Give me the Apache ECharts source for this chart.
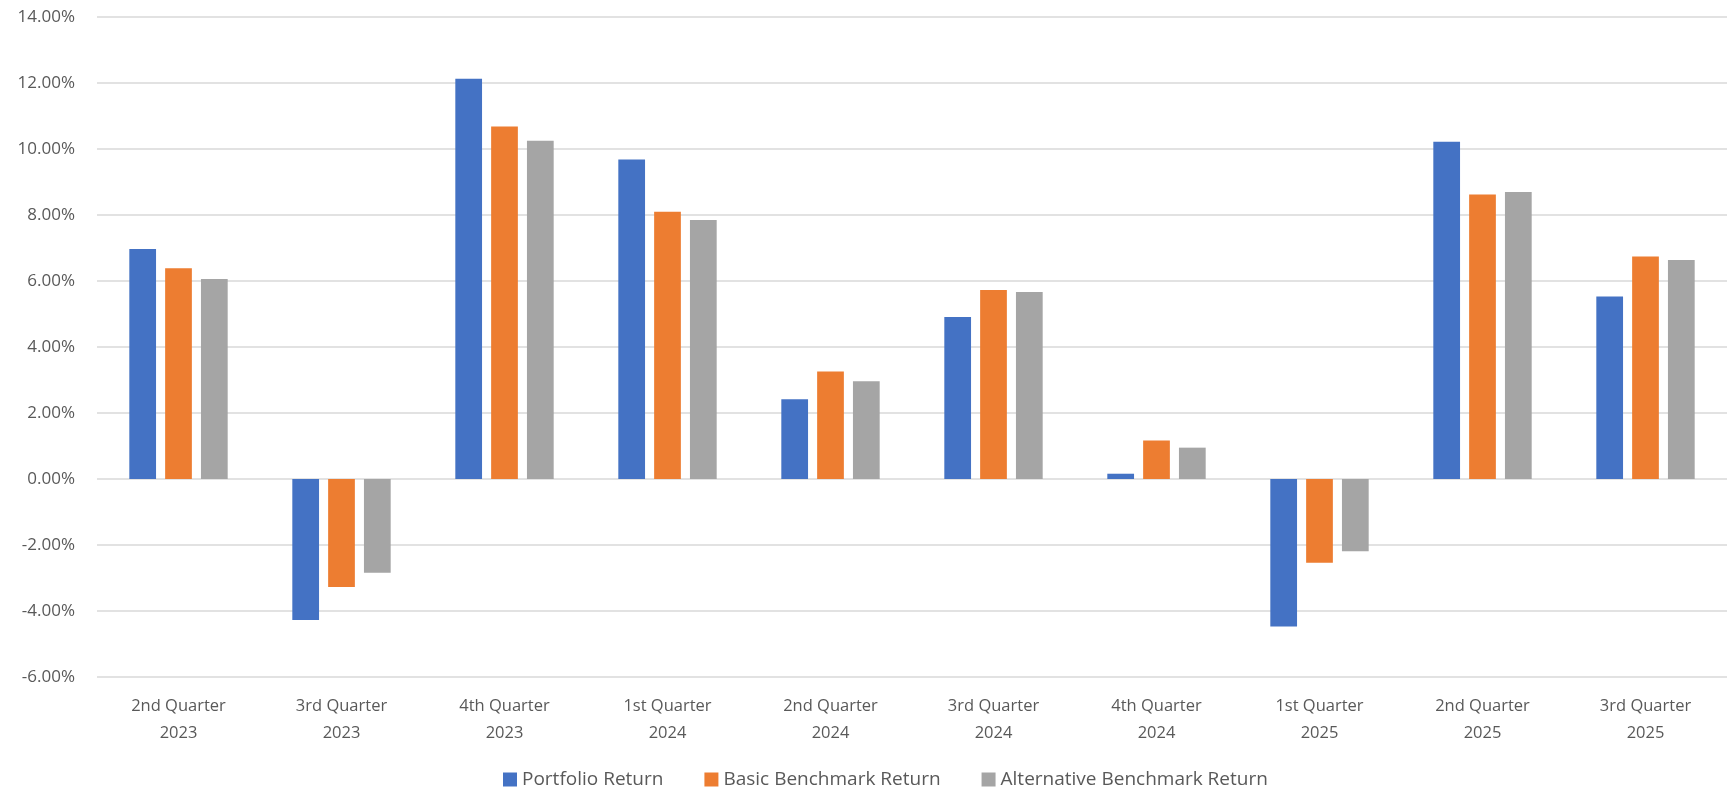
<!DOCTYPE html>
<html>
<head>
<meta charset="utf-8">
<script src="https://cdn.jsdelivr.net/npm/echarts@6/dist/echarts.min.js"></script>
<style>
html,body{margin:0;padding:0;background:#fff;}
#chart{width:1728px;height:794px;}
</style>
</head>
<body>
<div id="chart"></div>
<script>
const categories = [
  "2nd Quarter\n2023","3rd Quarter\n2023","4th Quarter\n2023","1st Quarter\n2024","2nd Quarter\n2024",
  "3rd Quarter\n2024","4th Quarter\n2024","1st Quarter\n2025","2nd Quarter\n2025","3rd Quarter\n2025"
];
const portfolioReturn = [6.97, -4.27, 12.13, 9.68, 2.42, 4.91, 0.16, -4.47, 10.22, 5.53];
const basicBenchmarkReturn = [6.39, -3.27, 10.68, 8.10, 3.26, 5.73, 1.17, -2.54, 8.62, 6.74];
const alternativeBenchmarkReturn = [6.06, -2.84, 10.25, 7.85, 2.96, 5.67, 0.95, -2.19, 8.70, 6.64];
const seriesNames = ["Portfolio Return","Basic Benchmark Return","Alternative Benchmark Return"];
const yMin = -6, yMax = 14, yStep = 2;

const FONT = "'Open Sans', 'Liberation Sans', sans-serif";
const chart = echarts.init(document.getElementById('chart'), null, {renderer:'canvas'});
function bar(name, data, color){
  return {
    name, type:'bar', data,
    barWidth:'16.4%', barGap:'34%',
    itemStyle:{color},
    emphasis:{disabled:true}
  };
}
chart.setOption({
  animation:false,
  textStyle:{fontFamily:FONT},
  grid:{left:97, right:1, top:17, bottom:117, containLabel:false},
  legend:{
    bottom:0, left:498,
    itemWidth:14, itemHeight:14, itemGap:41,
    icon:'rect',
    textStyle:{color:'#595959', fontSize:19, fontFamily:FONT},
    data:seriesNames
  },
  xAxis:{
    type:'category', data:categories,
    axisLine:{show:false, onZero:false},
    axisTick:{show:false},
    axisLabel:{color:'#595959', fontSize:16.5, lineHeight:27, margin:16, interval:0, fontFamily:FONT}
  },
  yAxis:{
    type:'value', min:yMin, max:yMax, interval:yStep,
    axisLine:{show:false}, axisTick:{show:false},
    splitLine:{lineStyle:{color:'#D9D9D9', width:1.5}},
    axisLabel:{color:'#595959', fontSize:17, margin:22, fontFamily:FONT,
      formatter:v=>v.toFixed(2)+'%'}
  },
  series:[
    bar(seriesNames[0], portfolioReturn, '#4472C4'),
    bar(seriesNames[1], basicBenchmarkReturn, '#ED7D31'),
    bar(seriesNames[2], alternativeBenchmarkReturn, '#A5A5A5')
  ]
});
</script>
</body>
</html>
